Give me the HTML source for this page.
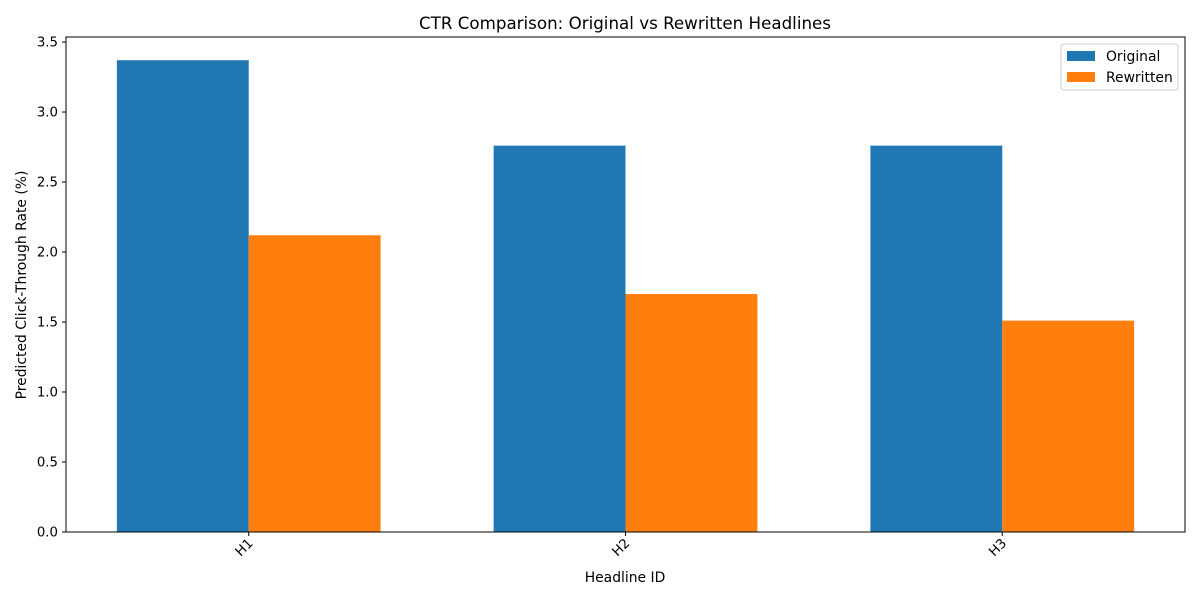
<!DOCTYPE html>
<html><head><meta charset="utf-8"><style>
body{margin:0;background:#fff;font-family:"Liberation Sans","DejaVu Sans",sans-serif;}
svg text{font-family:"DejaVu Sans","Liberation Sans",sans-serif;fill:#000;}
</style></head><body>
<svg id="chart" width="1200" height="600" xmlns="http://www.w3.org/2000/svg">
<text x="625" y="29" font-size="16.7" text-anchor="middle">CTR Comparison: Original vs Rewritten Headlines</text>
<g id="bars"></g>
<g id="axes"></g>
<text x="625" y="582" font-size="13.9" text-anchor="middle">Headline ID</text>
<text transform="translate(26,285) rotate(-90)" font-size="13.9" text-anchor="middle">Predicted Click-Through Rate (%)</text>
<g>
<rect x="1061" y="44" width="117" height="46" rx="3" fill="#fff" stroke="#ccc"/>
<g><rect x="1067" y="51" width="28" height="10" fill="#1f77b4"/><text x="1106" y="61" font-size="13.9">Original</text></g>
<g><rect x="1067" y="72" width="28" height="10" fill="#ff7f0e"/><text x="1106" y="82" font-size="13.9">Rewritten</text></g>
</g>
</svg>
<script>
const categories=["H1","H2","H3"];
const original=[3.37,2.76,2.76];
const rewritten=[2.12,1.70,1.51];
const yTicks=[0,0.5,1.0,1.5,2.0,2.5,3.0,3.5];
const NS="http://www.w3.org/2000/svg";
const L=66,R=1185,T=37,B=532,yMax=3.536;
const barW=0.35,xMin=-0.485,xMax=categories.length-1+0.485;
const xs=v=>L+(v-xMin)/(xMax-xMin)*(R-L);
const ys=v=>B-v/yMax*(B-T);
function mk(tag,attrs,parent){const e=document.createElementNS(NS,tag);for(const k in attrs)e.setAttribute(k,attrs[k]);parent.appendChild(e);return e;}
const bars=document.getElementById('bars'),axes=document.getElementById('axes');
categories.forEach((c,i)=>{
 const a=mk('rect',{x:xs(i-barW),y:ys(original[i]),width:xs(i)-xs(i-barW),height:B-ys(original[i]),fill:'#1f77b4'},bars);
 
 
 const b=mk('rect',{x:xs(i),y:ys(rewritten[i]),width:xs(i+barW)-xs(i),height:B-ys(rewritten[i]),fill:'#ff7f0e'},bars);
 
 
 const x=xs(i);
 mk('line',{x1:x,x2:x,y1:B,y2:B+4,stroke:'#000'},axes);
 const t=mk('text',{x:0,y:0,'font-size':13.3,'text-anchor':'end',transform:`translate(${x+5},${B+12}) rotate(-45)`},axes);
 t.textContent=c;
 
 
});
yTicks.forEach(v=>{
 const y=ys(v);
 mk('line',{x1:L-4,x2:L,y1:y,y2:y,stroke:'#000'},axes);
 const t=mk('text',{x:L-8,y:y+4.5,'font-size':13.3,'text-anchor':'end'},axes);
 t.textContent=v.toFixed(1);
 
 
});
const f=mk('rect',{x:L,y:T,width:R-L,height:B-T,fill:'none',stroke:'#000','stroke-width':1},axes);


</script>
</body></html>
